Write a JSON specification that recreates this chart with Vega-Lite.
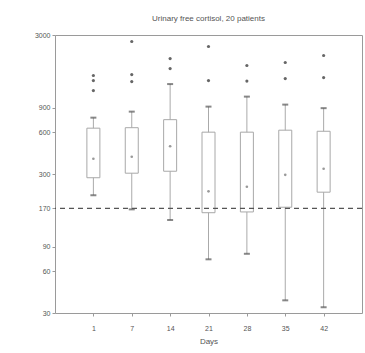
{
  "$schema": "https://vega.github.io/schema/vega-lite/v6.json",
  "autosize": "none",
  "width": 307,
  "height": 278,
  "padding": {"left": 55, "top": 35, "right": 3, "bottom": 40},
  "background": "white",
  "config": {
    "font": "Liberation Sans",
    "view": {"stroke": "#9a9a9a", "strokeWidth": 1},
    "axis": {"labelColor": "#555", "titleColor": "#555", "labelFontSize": 7, "titleFontSize": 8, "titleFontWeight": "normal", "domainColor": "#9a9a9a", "tickColor": "#9a9a9a", "grid": false}
  },
  "title": {"text": "Urinary free cortisol, 20 patients", "fontSize": 8, "fontWeight": "normal", "color": "#555", "offset": 8},
  "datasets": {
    "boxes": [
      {"day": "1", "lo": 211, "q1": 282, "med": 386, "q3": 641, "hi": 763},
      {"day": "7", "lo": 167, "q1": 304, "med": 399, "q3": 646, "hi": 843},
      {"day": "14", "lo": 140, "q1": 314, "med": 475, "q3": 738, "hi": 1331},
      {"day": "21", "lo": 73, "q1": 158, "med": 225, "q3": 600, "hi": 916},
      {"day": "28", "lo": 80, "q1": 160, "med": 243, "q3": 600, "hi": 1081},
      {"day": "35", "lo": 37, "q1": 173, "med": 296, "q3": 620, "hi": 947},
      {"day": "42", "lo": 33, "q1": 222, "med": 327, "q3": 609, "hi": 893}
    ],
    "outliers": [
      {"day": "1", "v": 1533}, {"day": "1", "v": 1410}, {"day": "1", "v": 1194},
      {"day": "7", "v": 2694}, {"day": "7", "v": 1558}, {"day": "7", "v": 1386},
      {"day": "14", "v": 2031}, {"day": "14", "v": 1721},
      {"day": "21", "v": 2479}, {"day": "21", "v": 1410},
      {"day": "28", "v": 1809}, {"day": "28", "v": 1398},
      {"day": "35", "v": 1902}, {"day": "35", "v": 1457},
      {"day": "42", "v": 2135}, {"day": "42", "v": 1481}
    ]
  },
  "encoding": {
    "x": {"field": "day", "type": "ordinal", "sort": ["1", "7", "14", "21", "28", "35", "42"],
      "scale": {"type": "point", "padding": 2, "domain": ["1", "7", "14", "21", "28", "35", "42"]},
      "axis": {"title": "Days", "labelAngle": 0, "tickSize": 3, "labelPadding": 8, "titlePadding": 6, "domain": false}}
  },
  "layer": [
    {
      "data": {"name": "boxes"},
      "mark": {"type": "rule", "color": "#aaa", "strokeWidth": 1},
      "encoding": {
        "y": {"field": "lo", "type": "quantitative",
          "scale": {"type": "log", "domain": [30, 3000], "nice": false},
          "axis": {"title": null, "values": [30, 60, 90, 170, 300, 600, 900, 3000], "format": "d", "tickSize": 3, "labelPadding": 2, "domain": false}},
        "y2": {"field": "hi"}
      }
    },
    {
      "data": {"name": "boxes"},
      "mark": {"type": "bar", "width": 13, "fill": "white", "stroke": "#a8a8a8", "strokeWidth": 1},
      "encoding": {
        "y": {"field": "q1", "type": "quantitative"},
        "y2": {"field": "q3"}
      }
    },
    {
      "data": {"name": "boxes"},
      "mark": {"type": "point", "filled": true, "size": 7, "color": "#999", "opacity": 1},
      "encoding": {"y": {"field": "med", "type": "quantitative"}}
    },
    {
      "data": {"name": "boxes"},
      "mark": {"type": "tick", "color": "#555", "size": 6, "thickness": 2},
      "encoding": {"y": {"field": "lo", "type": "quantitative"}}
    },
    {
      "data": {"name": "boxes"},
      "mark": {"type": "tick", "color": "#555", "size": 6, "thickness": 2},
      "encoding": {"y": {"field": "hi", "type": "quantitative"}}
    },
    {
      "data": {"name": "outliers"},
      "mark": {"type": "circle", "size": 10, "color": "#666", "opacity": 1},
      "encoding": {"y": {"field": "v", "type": "quantitative"}}
    },
    {
      "data": {"values": [{"y": 170}]},
      "mark": {"type": "rule", "color": "#555", "strokeWidth": 1.3, "strokeDash": [5, 4]},
      "encoding": {"y": {"field": "y", "type": "quantitative"}, "x": null}
    }
  ]
}
